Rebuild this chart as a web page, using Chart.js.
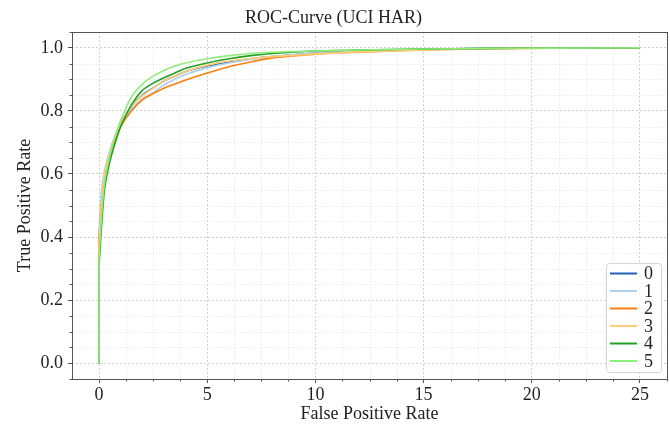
<!DOCTYPE html>
<html>
<head>
<meta charset="utf-8">
<script src="https://cdn.jsdelivr.net/npm/chart.js@4.4.1/dist/chart.umd.min.js"></script>
<style>
  html, body { margin: 0; padding: 0; background: #fff; }
</style>
</head>
<body>
<canvas id="roc" width="670" height="424"></canvas>
<script>
// ── ROC curves, one per activity class ──────────────────────────────
const classes = ['0', '1', '2', '3', '4', '5'];
const colors = ['#1f60b0', '#aed0ee', '#ff7f0e', '#ffcf78', '#22a022', '#8fec7a'];

// false positive rate (shared sample points), true positive rate per class
const fpr  = [0, 0, 0.1, 0.25, 0.5, 0.75, 1, 1.5, 2, 2.5, 3, 3.5, 4, 5, 6, 7, 8, 10, 12, 15, 18, 21, 25];
const tpr0 = [0, 0.35, 0.50, 0.60, 0.67, 0.72, 0.76, 0.815, 0.850, 0.873, 0.895, 0.910, 0.925, 0.942, 0.955, 0.965, 0.972, 0.983, 0.990, 0.995, 0.998, 0.999, 1];
const tpr1 = [0, 0.40, 0.54, 0.61, 0.675, 0.72, 0.755, 0.805, 0.838, 0.858, 0.882, 0.900, 0.915, 0.937, 0.952, 0.963, 0.972, 0.983, 0.990, 0.995, 0.998, 0.999, 1];
const tpr2 = [0, 0.38, 0.50, 0.58, 0.66, 0.71, 0.75, 0.800, 0.835, 0.855, 0.872, 0.885, 0.898, 0.920, 0.940, 0.955, 0.968, 0.980, 0.986, 0.993, 0.997, 0.999, 1];
const tpr3 = [0, 0.36, 0.50, 0.60, 0.67, 0.72, 0.76, 0.815, 0.848, 0.872, 0.895, 0.910, 0.925, 0.945, 0.958, 0.966, 0.972, 0.980, 0.987, 0.993, 0.997, 0.999, 1];
const tpr4 = [0, 0.30, 0.42, 0.55, 0.64, 0.70, 0.75, 0.820, 0.865, 0.888, 0.905, 0.920, 0.935, 0.952, 0.965, 0.975, 0.982, 0.990, 0.993, 0.996, 0.998, 0.999, 1];
const tpr5 = [0, 0.32, 0.45, 0.57, 0.66, 0.72, 0.77, 0.845, 0.885, 0.910, 0.928, 0.942, 0.952, 0.965, 0.975, 0.982, 0.986, 0.990, 0.993, 0.996, 0.998, 0.999, 1];
const tprs = [tpr0, tpr1, tpr2, tpr3, tpr4, tpr5];

const xTicks = [0, 5, 10, 15, 20, 25];
const yTicks = [0, 0.2, 0.4, 0.6, 0.8, 1.0];

const FONT = "'Liberation Serif', 'Times New Roman', serif";
Chart.defaults.font.family = FONT;
Chart.defaults.font.size = 18;
Chart.defaults.color = '#222';

// minor grid, frame and minor ticks (matplotlib look)
const frame = {
    id: 'frame',
    beforeDatasetsDraw(chart) {
        const { ctx, chartArea: a, scales: { x, y } } = chart;
        ctx.save();
        ctx.strokeStyle = '#e6e6e6';
        ctx.lineWidth = 0.8;
        ctx.setLineDash([1.5, 1.5]);
        for (let v = -1.25; v <= 26.25; v += 1.25) {
            if (v % 5 === 0) continue;
            const px = Math.round(x.getPixelForValue(v)) + 0.5;
            ctx.beginPath(); ctx.moveTo(px, a.top); ctx.lineTo(px, a.bottom); ctx.stroke();
        }
        for (let i = -1; i <= 21; i++) {
            if (i % 4 === 0) continue;
            const py = Math.round(y.getPixelForValue(i * 0.05)) + 0.5;
            ctx.beginPath(); ctx.moveTo(a.left, py); ctx.lineTo(a.right, py); ctx.stroke();
        }
        ctx.restore();
    },
    afterDatasetsDraw(chart) {
        const { ctx, chartArea: a, scales: { x, y } } = chart;
        ctx.save();
        ctx.strokeStyle = '#555';
        ctx.lineWidth = 1;
        ctx.strokeRect(Math.round(a.left) + 0.5, Math.round(a.top) + 0.5,
            Math.round(a.right - a.left), Math.round(a.bottom - a.top));
        for (let v = 1.25; v <= 26.25; v += 1.25) {
            if (v % 5 === 0) continue;
            const px = Math.round(x.getPixelForValue(v)) + 0.5;
            ctx.beginPath(); ctx.moveTo(px, a.bottom); ctx.lineTo(px, a.bottom + 2.5); ctx.stroke();
        }
        for (let i = -1; i <= 21; i++) {
            if (i % 4 === 0) continue;
            const py = Math.round(y.getPixelForValue(i * 0.05)) + 0.5;
            ctx.beginPath(); ctx.moveTo(a.left, py); ctx.lineTo(a.left - 2.5, py); ctx.stroke();
        }
        ctx.restore();
    }
};

// legend box in lower right corner of the plot
const legendBox = {
    id: 'legendBox',
    afterDraw(chart) {
        const { ctx, chartArea: a } = chart;
        const sets = chart.data.datasets;
        const rowH = 17.5, w = 55, h = sets.length * rowH + 4;
        const bx = a.right - 6 - w, by = a.bottom - 7 - h;
        ctx.save();
        ctx.fillStyle = 'rgba(255,255,255,0.85)';
        ctx.strokeStyle = '#d4d4d4';
        ctx.lineWidth = 1;
        ctx.beginPath();
        ctx.roundRect(bx + 0.5, by + 0.5, w, h, 3);
        ctx.fill(); ctx.stroke();
        ctx.font = '18px ' + FONT;
        ctx.textBaseline = 'middle';
        sets.forEach((ds, i) => {
            const cy = by + 10.5 + i * rowH;
            ctx.strokeStyle = ds.borderColor;
            ctx.lineWidth = 2;
            ctx.beginPath(); ctx.moveTo(bx + 4, cy); ctx.lineTo(bx + 31, cy); ctx.stroke();
            ctx.fillStyle = '#222';
            ctx.fillText(ds.label, bx + 38, cy + 1);
        });
        ctx.restore();
    }
};

const datasets = classes.map((c, i) => ({
    label: c,
    data: fpr.map((f, k) => ({ x: f, y: tprs[i][k] })),
    borderColor: colors[i],
    backgroundColor: colors[i],
    borderWidth: 1.6,
    pointRadius: 0,
    tension: 0.2,
    order: classes.length - i
}));

const gridOpts = { color: '#c4c4c4', lineWidth: 0.8, tickLength: 4, tickColor: '#555', tickBorderDash: [], tickWidth: 1 };

new Chart(document.getElementById('roc'), {
    type: 'line',
    data: { datasets },
    plugins: [frame, legendBox],
    options: {
        responsive: false,
        animation: false,
        layout: { padding: { left: 0, right: 3, top: 0, bottom: 0 } },
        plugins: {
            legend: { display: false },
            tooltip: { enabled: false },
            title: {
                display: true,
                text: 'ROC-Curve (UCI HAR)',
                color: '#222',
                font: { family: FONT, size: 18, weight: 'normal' },
                padding: { top: 7, bottom: 3.4 }
            }
        },
        scales: {
            x: {
                type: 'linear',
                min: -1.25,
                max: 26.25,
                afterBuildTicks: s => { s.ticks = xTicks.map(v => ({ value: v })); },
                afterFit: s => { s.height = 45; },
                grid: gridOpts,
                border: { display: false, dash: [2, 2] },
                ticks: { color: '#222', padding: 1, font: { family: FONT, size: 18 }, maxRotation: 0, callback: v => String(v) },
                title: { display: true, text: 'False Positive Rate', color: '#222', font: { family: FONT, size: 18 }, padding: { top: 0, bottom: -1.5 } }
            },
            y: {
                type: 'linear',
                min: -0.05,
                max: 1.05,
                afterBuildTicks: s => { s.ticks = yTicks.map(v => ({ value: v })); },
                afterFit: s => { s.width = 72; },
                grid: gridOpts,
                border: { display: false, dash: [2, 2] },
                ticks: { color: '#222', padding: 5, font: { family: FONT, size: 18 }, callback: v => v.toFixed(1) },
                title: { display: true, text: 'True Positive Rate', color: '#222', font: { family: FONT, size: 18 }, padding: { top: 14, bottom: 0 } }
            }
        }
    }
});
</script>
</body>
</html>
